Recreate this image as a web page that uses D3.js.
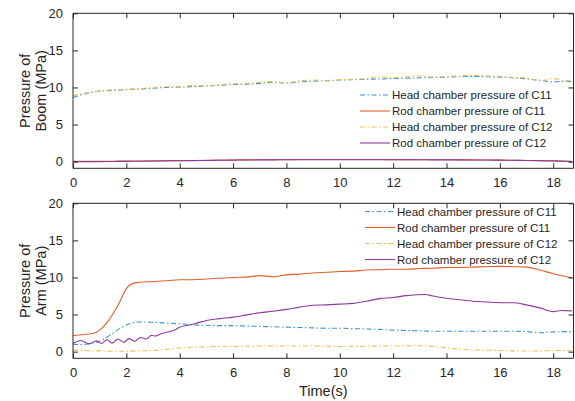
<!DOCTYPE html>
<html>
<head>
<meta charset="utf-8">
<script src="https://cdn.jsdelivr.net/npm/d3@7"></script>
<style>
  body { margin: 0; background: #fff; }
  text { font-family: Arial, "Liberation Sans", sans-serif; fill: #262626; }
  .axis path, .axis line { stroke: #262626; }
  .axis text { font-size: 13px; }
</style>
</head>
<body>
<script>
const legendLabels = [
  'Head chamber pressure of C11',
  'Rod chamber pressure of C11',
  'Head chamber pressure of C12',
  'Rod chamber pressure of C12'
];
const colors = ['#3a92d4', '#e35f28', '#f1c04f', '#8b3c9c'];
const dashed = [true, false, true, false];

const xTicks = [0, 2, 4, 6, 8, 10, 12, 14, 16, 18];
const yTicks = [0, 5, 10, 15, 20];

// boom (top) time grid
const tBoom = [0, 0.5, 1, 1.5, 2, 2.5, 3, 3.5, 4, 4.5, 5, 5.5, 6, 6.5, 7, 7.5, 8, 8.5, 9, 9.5,
  10, 10.5, 11, 11.5, 12, 12.5, 13, 13.5, 14, 14.5, 15, 15.5, 16, 16.5, 17, 17.5, 18, 18.5, 18.7];
const boomHeadC11 = [8.65, 9.2, 9.5, 9.6, 9.7, 9.8, 9.9, 10.0, 10.05, 10.1, 10.2, 10.3, 10.4, 10.45, 10.55, 10.7, 10.6, 10.75, 10.85, 10.9,
  11.0, 11.05, 11.1, 11.15, 11.2, 11.25, 11.3, 11.35, 11.4, 11.45, 11.5, 11.45, 11.4, 11.3, 11.15, 10.95, 10.75, 10.85, 10.8];
const boomRodC11 = [0.05, 0.05, 0.05, 0.06, 0.07, 0.08, 0.1, 0.12, 0.14, 0.16, 0.18, 0.2, 0.22, 0.24, 0.25, 0.26, 0.27, 0.28, 0.28, 0.28,
  0.28, 0.28, 0.28, 0.28, 0.27, 0.27, 0.26, 0.25, 0.25, 0.24, 0.23, 0.22, 0.2, 0.18, 0.15, 0.12, 0.08, 0.04, 0.02];
const boomHeadC12 = [8.9, 9.25, 9.5, 9.7, 9.75, 9.85, 10.0, 10.1, 10.05, 10.3, 10.2, 10.4, 10.5, 10.55, 10.7, 10.8, 10.6, 10.9, 11.0, 10.9,
  11.05, 11.1, 11.2, 11.45, 11.3, 11.45, 11.55, 11.4, 11.5, 11.55, 11.65, 11.55, 11.5, 11.35, 11.3, 10.9, 11.2, 10.9, 11.0];
const boomRodC12 = [0.0, 0.0, 0.0, 0.02, 0.04, 0.06, 0.08, 0.1, 0.12, 0.14, 0.16, 0.18, 0.2, 0.22, 0.23, 0.24, 0.25, 0.25, 0.26, 0.26,
  0.26, 0.26, 0.26, 0.26, 0.26, 0.25, 0.25, 0.24, 0.24, 0.23, 0.22, 0.21, 0.2, 0.18, 0.16, 0.13, 0.1, 0.06, 0.04];

// arm (bottom) time grid
const tArm = [0, 0.25, 0.5, 0.75, 1, 1.25, 1.5, 1.75, 2, 2.25, 2.5, 3, 3.5, 4, 4.5, 5, 5.5, 6, 6.5, 7, 7.5, 8, 8.5, 9, 9.5,
  10, 10.5, 11, 11.5, 12, 12.5, 13, 13.5, 14, 14.5, 15, 15.5, 16, 16.5, 17, 17.5, 18, 18.5, 18.7];
const armHeadC11 = [1.0, 0.95, 1.0, 1.15, 1.4, 1.9, 2.5, 3.1, 3.6, 3.9, 4.0, 3.95, 3.85, 3.75, 3.6, 3.55, 3.5, 3.5, 3.45, 3.4, 3.35, 3.3, 3.25, 3.2, 3.15,
  3.15, 3.1, 3.05, 3.0, 2.9, 2.85, 2.8, 2.75, 2.75, 2.75, 2.75, 2.75, 2.75, 2.75, 2.7, 2.55, 2.65, 2.7, 2.7];
const armRodC11 = [2.15, 2.25, 2.35, 2.45, 2.9, 3.8, 5.1, 6.7, 8.5, 9.2, 9.35, 9.45, 9.55, 9.7, 9.7, 9.8, 9.9, 10.0, 10.05, 10.25, 10.1, 10.35, 10.45, 10.6, 10.7,
  10.8, 10.85, 11.0, 11.05, 11.1, 11.1, 11.2, 11.25, 11.35, 11.35, 11.4, 11.45, 11.5, 11.45, 11.4, 11.0, 10.5, 10.1, 9.95];
const armHeadC12 = [0.2, 0.18, 0.15, 0.12, 0.1, 0.08, 0.05, 0.05, 0.05, 0.07, 0.1, 0.15, 0.3, 0.5, 0.6, 0.65, 0.7, 0.7, 0.72, 0.75, 0.75, 0.75, 0.75, 0.75, 0.72,
  0.7, 0.7, 0.72, 0.75, 0.75, 0.78, 0.8, 0.7, 0.5, 0.35, 0.25, 0.2, 0.15, 0.1, 0.08, 0.1, 0.15, 0.15, 0.15];
// rod C12 of arm oscillates at the start, so it has its own time points
const tArmRodC12 = [0, 0.31, 0.6, 0.875, 1.06, 1.28, 1.46, 1.69, 1.9, 2.1, 2.31, 2.53, 2.75, 2.94, 3.1, 3.3, 3.5, 3.8, 4.0, 4.3, 4.6, 5, 5.5, 6, 6.5, 7, 7.5, 8,
  8.5, 9, 9.5, 10, 10.5, 11, 11.5, 12, 12.5, 13.2, 13.5, 14, 14.5, 15, 15.5, 16, 16.5, 17, 17.5, 18, 18.3, 18.7];
const armRodC12 = [1.1, 1.5, 1.05, 1.45, 1.1, 1.6, 1.15, 1.7, 1.25, 1.75, 1.4, 1.9, 1.7, 2.2, 2.1, 2.4, 2.6, 2.9, 3.3, 3.55, 3.8, 4.2, 4.45, 4.65, 4.95, 5.25, 5.45, 5.7,
  6.0, 6.25, 6.3, 6.4, 6.5, 6.8, 7.15, 7.3, 7.55, 7.7, 7.5, 7.2, 7.0, 6.8, 6.7, 6.6, 6.6, 6.3, 5.9, 5.4, 5.55, 5.5];

const width = 575;
const height = 401;
const left = 73, right = 573.5;

const svg = d3.select('body').append('svg')
  .attr('width', width)
  .attr('height', height);

const x = d3.scaleLinear().domain([0, 18.76]).range([left, right]);

const panels = [
  {
    top: 13.3, bottom: 168.3, name: 'Boom (MPa)',
    series: [[tBoom, boomHeadC11], [tBoom, boomRodC11], [tBoom, boomHeadC12], [tBoom, boomRodC12]],
    legend: { x: 360, y: 95 }
  },
  {
    top: 203.3, bottom: 358.3, name: 'Arm (MPa)',
    series: [[tArm, armHeadC11], [tArm, armRodC11], [tArm, armHeadC12], [tArmRodC12, armRodC12]],
    legend: { x: 365, y: 211.5 }
  }
];

panels.forEach(p => {
  const y = d3.scaleLinear().domain([-0.9, 20]).range([p.bottom, p.top]);
  const g = svg.append('g');

  const clipId = 'clip' + Math.round(p.top);
  g.append('clipPath').attr('id', clipId)
    .append('rect')
    .attr('x', left).attr('y', p.top)
    .attr('width', right - left).attr('height', p.bottom - p.top);

  const line = d3.line()
    .x(d => x(d[0]))
    .y(d => y(d[1]))
    .curve(d3.curveMonotoneX);

  p.series.forEach(([ts, vs], i) => {
    g.append('path')
      .datum(ts.map((t, k) => [t, vs[k]]))
      .attr('clip-path', `url(#${clipId})`)
      .attr('fill', 'none')
      .attr('stroke', colors[i])
      .attr('stroke-width', 1.1)
      .attr('stroke-dasharray', dashed[i] ? '5,2.5,1.5,2.5' : null)
      .attr('d', line);
  });

  // box with inward ticks on all sides
  g.append('g').attr('class', 'axis')
    .attr('transform', `translate(0,${p.bottom})`)
    .call(d3.axisBottom(x).tickValues(xTicks).tickSizeInner(-5).tickSizeOuter(0).tickPadding(9))
    .call(a => a.select('.domain').attr('d', `M${left},0H${right}`));
  g.append('g').attr('class', 'axis')
    .attr('transform', `translate(0,${p.top})`)
    .call(d3.axisTop(x).tickValues(xTicks).tickSizeInner(-5).tickSizeOuter(0).tickFormat(''))
    .call(a => a.select('.domain').attr('d', `M${left},0H${right}`));
  g.append('g').attr('class', 'axis')
    .attr('transform', `translate(${left},0)`)
    .call(d3.axisLeft(y).tickValues(yTicks).tickSizeInner(-5).tickSizeOuter(0).tickPadding(10))
    .call(a => a.select('.domain').attr('d', `M0,${p.top}V${p.bottom}`));
  g.append('g').attr('class', 'axis')
    .attr('transform', `translate(${right},0)`)
    .call(d3.axisRight(y).tickValues(yTicks).tickSizeInner(-5).tickSizeOuter(0).tickFormat(''))
    .call(a => a.select('.domain').attr('d', `M0,${p.top}V${p.bottom}`));

  // y label in two lines
  const cy = (p.top + p.bottom) / 2;
  g.append('text')
    .attr('transform', `translate(30,${cy}) rotate(-90)`)
    .attr('text-anchor', 'middle')
    .style('font-size', '14.5px')
    .text('Pressure of');
  g.append('text')
    .attr('transform', `translate(46,${cy}) rotate(-90)`)
    .attr('text-anchor', 'middle')
    .style('font-size', '14.5px')
    .text(p.name);

  // legend
  const lg = g.append('g').attr('transform', `translate(${p.legend.x},${p.legend.y})`);
  legendLabels.forEach((s, i) => {
    const row = lg.append('g').attr('transform', `translate(0,${i * 16})`);
    row.append('line')
      .attr('x1', 0).attr('x2', 30)
      .attr('stroke', colors[i])
      .attr('stroke-width', 1.1)
      .attr('stroke-dasharray', dashed[i] ? '5,2.5,1.5,2.5' : null);
    row.append('text')
      .attr('x', 32)
      .attr('dy', '0.35em')
      .style('font-size', '11.5px')
      .text(s);
  });
});

svg.append('text')
  .attr('x', (left + right) / 2)
  .attr('y', 396)
  .attr('text-anchor', 'middle')
  .style('font-size', '14.5px')
  .text('Time(s)');
</script>
</body>
</html>
